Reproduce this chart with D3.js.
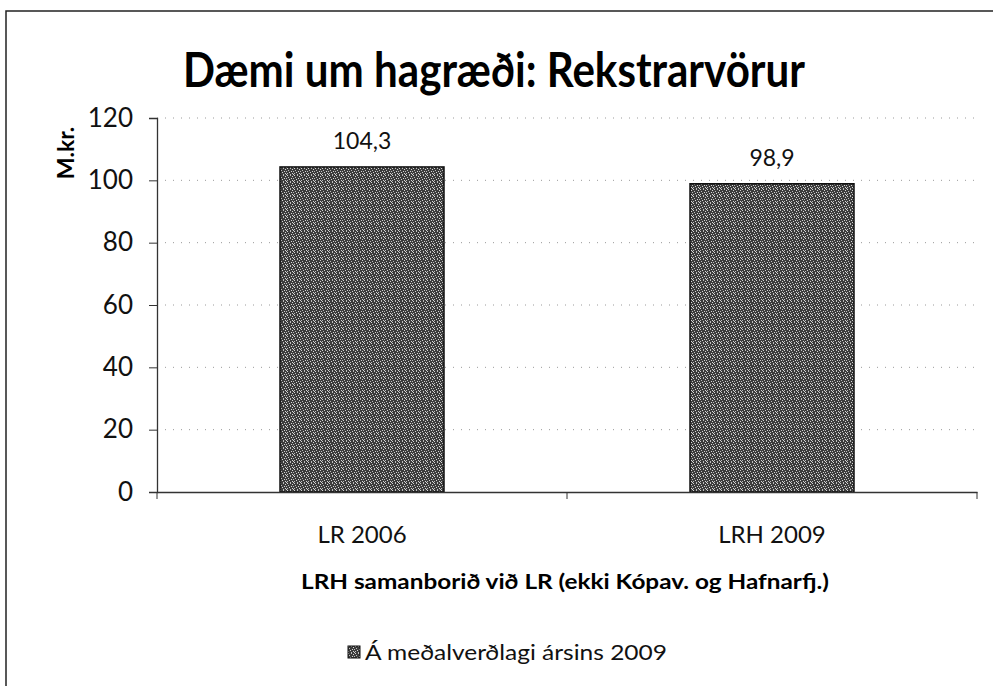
<!DOCTYPE html>
<html><head><meta charset="utf-8">
<script src="https://cdn.jsdelivr.net/npm/d3@7"></script>
<style>body{margin:0;background:#fff}svg{display:block;font-family:Lato,"Open Sans",sans-serif}</style>
</head><body>
<svg id="c" width="993" height="686"></svg>
<script>
const categories = ["LR 2006", "LRH 2009"];
const values = [104.3, 98.9];
const valueLabels = ["104,3", "98,9"];
const yTicks = [0, 20, 40, 60, 80, 100, 120];
const title = "Dæmi um hagræði: Rekstrarvörur";
const yTitle = "M.kr.";
const xTitle = "LRH samanborið við LR (ekki Kópav. og Hafnarfj.)";
const seriesName = "Á meðalverðlagi ársins 2009";

const svg = d3.select("#c");
const defs = svg.append("defs");
const pat = defs.append("pattern").attr("id","tex").attr("width",7).attr("height",7).attr("patternUnits","userSpaceOnUse");
pat.append("rect").attr("width",7).attr("height",7).attr("fill","#3c3c3c");
const speck = [[0,0],[3,0],[5,1],[1,2],[4,3],[6,3],[2,4],[0,5],[5,5],[3,6],[6,6]];
pat.selectAll("rect.s").data(speck).join("rect").attr("class","s")
  .attr("x", d => d[0]).attr("y", d => d[1]).attr("width",1).attr("height",1)
  .attr("fill", (d,i) => i % 2 ? "#bdbdbd" : "#d6d6d6");

// frame
svg.append("path").attr("d","M6,686 V11 H993").attr("fill","none").attr("stroke","#222").attr("stroke-width",1.5);

const x0 = 157, x1 = 977, yB = 492, yT = 118;
const x = d3.scaleBand().domain(categories).range([x0, x1]).padding(0);
const y = d3.scaleLinear().domain([0, 120]).range([yB, yT]);

// grid
svg.append("g").selectAll("line").data(yTicks.filter(d => d > 0)).join("line")
  .attr("x1", x0).attr("x2", x1).attr("y1", d => y(d)).attr("y2", d => y(d))
  .attr("stroke", "#9a9a9a").attr("stroke-width", 1).attr("stroke-dasharray", "1,7");

// bars
const bw = x.bandwidth() * 0.4;
svg.append("g").selectAll("rect").data(values).join("rect")
  .attr("x", (d, i) => x(categories[i]) + (x.bandwidth() - bw) / 2)
  .attr("y", d => y(d)).attr("width", bw).attr("height", d => yB - y(d))
  .attr("fill", "url(#tex)").attr("stroke", "#111").attr("stroke-width", 1.5);

// value labels
svg.append("g").selectAll("text").data(values).join("text")
  .attr("x", (d, i) => x(categories[i]) + x.bandwidth() / 2)
  .attr("y", d => y(d) - 18).attr("text-anchor", "middle")
  .attr("font-size", 23).attr("fill", "#111").text((d, i) => valueLabels[i]);

// y axis
const yAxis = svg.append("g").attr("transform", `translate(${x0},0)`)
  .call(d3.axisLeft(y).tickValues(yTicks).tickSize(8).tickPadding(16));
yAxis.select(".domain").attr("stroke", "#333").attr("stroke-width", 1.3);
yAxis.selectAll(".tick line").attr("stroke", "#333");
yAxis.selectAll(".tick text").attr("font-size", 26).attr("fill", "#111").attr("font-family", "Lato, sans-serif");

// x axis
const xAxis = svg.append("g").attr("transform", `translate(0,${yB})`)
  .call(d3.axisBottom(x).tickSize(0).tickPadding(34));
xAxis.select(".domain").attr("stroke", "#333").attr("stroke-width", 1.3);
xAxis.selectAll(".tick text").attr("font-size", 24).attr("fill", "#111").attr("font-family", "Lato, sans-serif");
// category separator ticks
const sep = [x0, x0 + x.step(), x1];
svg.append("g").selectAll("line").data(sep).join("line")
  .attr("x1", d => d).attr("x2", d => d).attr("y1", yB).attr("y2", yB + 7)
  .attr("stroke", "#333").attr("stroke-width", 1);

// title
svg.append("text").attr("x", 494).attr("y", 87).attr("text-anchor", "middle")
  .attr("font-size", 48).attr("font-weight", "bold").attr("fill", "#000")
  .attr("textLength", 622).attr("lengthAdjust", "spacingAndGlyphs").text(title);

// y title
svg.append("text").attr("transform", "translate(74,153) rotate(-90)").attr("text-anchor", "middle")
  .attr("font-size", 23).attr("font-weight", "bold").attr("fill", "#000").text(yTitle);

// x title
svg.append("text").attr("x", 565).attr("y", 589).attr("text-anchor", "middle")
  .attr("font-size", 21).attr("font-weight", "bold").attr("fill", "#000")
  .attr("textLength", 528).attr("lengthAdjust", "spacingAndGlyphs").text(xTitle);

// legend
const lg = svg.append("g").attr("transform", "translate(348,646)");
lg.append("rect").attr("x", 0).attr("y", 0).attr("width", 12).attr("height", 12)
  .attr("fill", "url(#tex)").attr("stroke", "#111").attr("stroke-width", 1);
lg.append("text").attr("x", 17).attr("y", 14).attr("font-size", 22).attr("fill", "#111")
  .attr("textLength", 302).attr("lengthAdjust", "spacingAndGlyphs").text(seriesName);
</script>
</body></html>
